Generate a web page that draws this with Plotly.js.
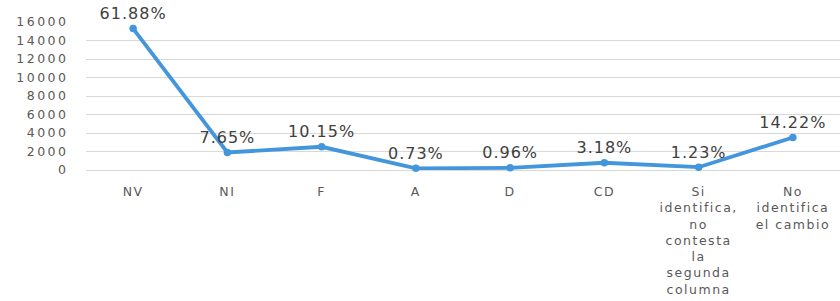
<!DOCTYPE html>
<html>
<head>
<meta charset="utf-8">
<script src="https://cdn.plot.ly/plotly-3.0.1.min.js"></script>
<style>
  html, body { margin: 0; padding: 0; background: #fff; }
  #chart { width: 840px; height: 301px; }
  .ytick text { letter-spacing: 2.5px; }
  .xtick text { letter-spacing: 1.5px; }
  .textpoint text { letter-spacing: 1px; }
</style>
</head>
<body>
<div id="chart"></div>
<script>
const categories = ["NV", "NI", "F", "A", "D", "CD",
  "Si<br>identifica,<br>no<br>contesta<br>la<br>segunda<br>columna",
  "No<br>identifica<br>el cambio"];
const counts = [15290, 1890, 2510, 180, 237, 786, 304, 3513];
const percentLabels = ["61.88%", "7.65%", "10.15%", "0.73%", "0.96%", "3.18%", "1.23%", "14.22%"];
const yTickValues = [0, 2000, 4000, 6000, 8000, 10000, 12000, 14000, 16000];

const trace = {
  x: categories,
  y: counts,
  type: "scatter",
  mode: "lines+markers+text",
  text: percentLabels,
  textposition: "top center",
  textfont: { family: "DejaVu Sans", size: 16, color: "#404040" },
  line: { color: "#4396DC", width: 3.8 },
  marker: { color: "#4396DC", size: 7.5 },
  cliponaxis: false,
  hoverinfo: "skip"
};

const layout = {
  width: 840,
  height: 301,
  margin: { l: 86, r: 0, t: 22, b: 131 },
  paper_bgcolor: "#ffffff",
  plot_bgcolor: "#ffffff",
  showlegend: false,
  xaxis: {
    type: "category",
    range: [-0.5, 7.5],
    showgrid: false,
    zeroline: false,
    showline: false,
    ticks: "outside",
    ticklen: 10,
    tickcolor: "rgba(0,0,0,0)",
    tickangle: 0,
    tickfont: { family: "DejaVu Sans", size: 12.5, color: "#595959" },
    fixedrange: true
  },
  yaxis: {
    range: [0, 16000],
    tickvals: yTickValues,
    ticktext: yTickValues.map(String),
    showgrid: true,
    gridcolor: "#D9D9D9",
    gridwidth: 1,
    zeroline: true,
    zerolinecolor: "#D9D9D9",
    zerolinewidth: 1,
    showline: false,
    ticks: "outside",
    ticklen: 14,
    tickcolor: "rgba(0,0,0,0)",
    tickfont: { family: "DejaVu Sans", size: 12.5, color: "#595959" },
    fixedrange: true
  }
};

Plotly.newPlot("chart", [trace], layout, { staticPlot: true, displayModeBar: false });
</script>
</body>
</html>
